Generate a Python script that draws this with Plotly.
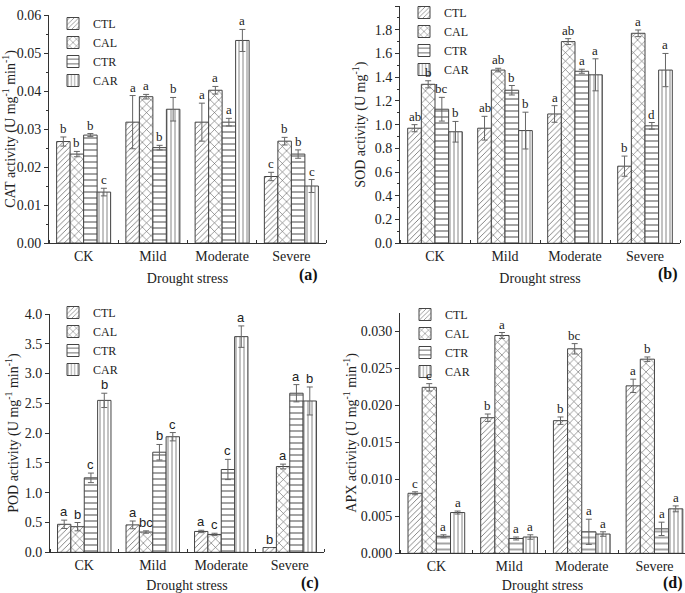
import plotly.graph_objects as go

W, H = 685, 593

categories = ["CK", "Mild", "Moderate", "Severe"]
series = ["CTL", "CAL", "CTR", "CAR"]

# ---- (a) CAT ----
cat_mean = {"CTL": [0.0267, 0.0318, 0.0318, 0.0175],
            "CAL": [0.0234, 0.0385, 0.0402, 0.0268],
            "CTR": [0.0284, 0.0251, 0.0318, 0.0234],
            "CAR": [0.0134, 0.0352, 0.0533, 0.0150]}
cat_err = {"CTL": [0.0012, 0.0070, 0.0050, 0.0011],
           "CAL": [0.0007, 0.0006, 0.0010, 0.0010],
           "CTR": [0.0004, 0.0006, 0.0010, 0.0011],
           "CAR": [0.0010, 0.0031, 0.0029, 0.0017]}
cat_letters = {"CTL": ["b", "a", "a", "c"],
               "CAL": ["b", "a", "a", "b"],
               "CTR": ["b", "b", "a", "b"],
               "CAR": ["c", "b", "a", "c"]}

# ---- (b) SOD ----
sod_mean = {"CTL": [0.97, 0.97, 1.09, 0.65],
            "CAL": [1.34, 1.46, 1.70, 1.77],
            "CTR": [1.13, 1.29, 1.45, 0.99],
            "CAR": [0.94, 0.95, 1.42, 1.46]}
sod_err = {"CTL": [0.03, 0.10, 0.07, 0.085],
           "CAL": [0.03, 0.015, 0.025, 0.028],
           "CTR": [0.10, 0.04, 0.017, 0.028],
           "CAR": [0.087, 0.155, 0.135, 0.14]}
sod_letters = {"CTL": ["ab", "ab", "a", "b"],
               "CAL": ["b", "ab", "ab", "a"],
               "CTR": ["bc", "b", "a", "d"],
               "CAR": ["b", "b", "a", "a"]}

# ---- (c) POD ----
pod_mean = {"CTL": [0.47, 0.46, 0.35, 0.08],
            "CAL": [0.43, 0.34, 0.30, 1.44],
            "CTR": [1.25, 1.68, 1.39, 2.67],
            "CAR": [2.55, 1.94, 3.62, 2.54]}
pod_err = {"CTL": [0.07, 0.065, 0.02, 0.0],
           "CAL": [0.07, 0.02, 0.02, 0.04],
           "CTR": [0.08, 0.13, 0.17, 0.145],
           "CAR": [0.12, 0.07, 0.18, 0.235]}
pod_letters = {"CTL": ["a", "a", "a", "b"],
               "CAL": ["b", "bc", "c", "a"],
               "CTR": ["c", "b", "c", "a"],
               "CAR": ["b", "c", "a", "b"]}

# ---- (d) APX ----
apx_mean = {"CTL": [0.0081, 0.0183, 0.0179, 0.0226],
            "CAL": [0.0224, 0.0294, 0.0276, 0.0262],
            "CTR": [0.0023, 0.0020, 0.0029, 0.0033],
            "CAR": [0.0055, 0.0022, 0.0026, 0.0060]}
apx_err = {"CTL": [0.0002, 0.0005, 0.0005, 0.0009],
           "CAL": [0.0005, 0.0004, 0.0007, 0.0003],
           "CTR": [0.0002, 0.0002, 0.0017, 0.0009],
           "CAR": [0.0002, 0.0003, 0.0003, 0.0004]}
apx_letters = {"CTL": ["c", "b", "b", "a"],
               "CAL": ["c", "a", "bc", "b"],
               "CTR": ["a", "a", "a", "a"],
               "CAR": ["a", "a", "a", "a"]}

SERIF = "Liberation Serif, Times New Roman, serif"
SANS = "Liberation Sans, Arial, sans-serif"
patterns = {"CTL": ("/", 4), "CAL": ("x", 6), "CTR": ("-", 6), "CAR": ("|", 4)}
BARGAP = 0.22
bar_w = (1 - BARGAP) / 4


def px_x(p):
    return p / W


def px_y(p):
    return 1 - p / H


panels = [
    dict(mean=cat_mean, err=cat_err, let=cat_letters, xd=(49, 326), yd=(243, 15),
         yr=[0, 0.06], dt=0.01, fmt=".2f", xr=[-0.5, 3.5],
         yt="CAT activity (U mg<sup>-1</sup> min<sup>-1</sup>)", st=2,
         lab="(a)", lp=(308, 275), lf=SERIF, leg=(53, 9)),
    dict(mean=sod_mean, err=sod_err, let=sod_letters, xd=(400, 680), yd=(243.3, 6),
         yr=[0, 2.0], dt=0.2, fmt=".1f", xr=[-0.5, 3.5],
         yt="SOD activity (U mg<sup>-1</sup>)", st=5,
         lab="(b)", lp=(668, 274), lf=SERIF, leg=(404, -2)),
    dict(mean=pod_mean, err=pod_err, let=pod_letters, xd=(50, 324), yd=(552.3, 314),
         yr=[0, 4.0], dt=0.5, fmt=".1f", xr=[-0.5, 3.5],
         yt="POD activity (U mg<sup>-1</sup> min<sup>-1</sup>)", st=2,
         lab="(c)", lp=(310, 583), lf=SANS, leg=(53, 298)),
    dict(mean=apx_mean, err=apx_err, let=apx_letters, xd=(400, 685), yd=(553.3, 312.5),
         yr=[0, 0.0325], dt=0.005, fmt=".3f", xr=[-0.5, 3.42],
         yt="APX activity (U mg<sup>-1</sup> min<sup>-1</sup>)", st=0,
         lab="(d)", lp=(673, 583), lf=SERIF, leg=(405, 300)),
]

fig = go.Figure()
annotations = []
layout = {}
xpos = list(range(len(categories)))

for i, p in enumerate(panels):
    n = i + 1
    sx = "" if n == 1 else str(n)
    xa, ya = "x" + sx, "y" + sx
    legname = "legend" + sx
    for j, s in enumerate(series):
        shape, size = patterns[s]
        fig.add_trace(go.Bar(
            x=xpos, y=p["mean"][s], name=s, xaxis=xa, yaxis=ya,
            legend=legname, showlegend=True,
            marker=dict(color="white", line=dict(color="#444444", width=1),
                        pattern=dict(shape=shape, size=size, solidity=0.18,
                                     fgcolor="#555555", bgcolor="white",
                                     fillmode="replace")),
            error_y=dict(type="data", array=p["err"][s], visible=True,
                         color="#666666", thickness=1, width=3),
        ))
        off = (j - 1.5) * bar_w
        for k in range(len(categories)):
            annotations.append(dict(
                x=xpos[k] + off, y=p["mean"][s][k] + p["err"][s][k],
                xref=xa, yref=ya, text=p["let"][s][k], showarrow=False,
                yanchor="bottom", yshift=-1,
                font=dict(family=p["lf"], size=13, color="#222222")))
    layout["xaxis" + sx] = dict(
        domain=[px_x(p["xd"][0]), px_x(p["xd"][1])], anchor=ya,
        range=p["xr"], tickvals=xpos, ticktext=categories, ticks="",
        automargin=False,
        showline=True, linecolor="#333333", linewidth=1, showgrid=False,
        zeroline=False,
        minor=dict(tick0=0.5, dtick=1, ticks="inside", ticklen=3,
                   tickcolor="#333333", showgrid=False),
        tickfont=dict(family=SERIF, size=14, color="#222222"),
        title=dict(text="Drought stress", standoff=10,
                   font=dict(family=SERIF, size=14, color="#222222")),
    )
    layout["yaxis" + sx] = dict(
        domain=[px_y(p["yd"][0]), px_y(p["yd"][1])], anchor=xa,
        range=p["yr"], dtick=p["dt"], tick0=0, tickformat=p["fmt"],
        automargin=False,
        ticks="outside", ticklen=4, tickcolor="#333333",
        showline=True, linecolor="#333333", linewidth=1, showgrid=False,
        zeroline=False,
        minor=dict(ticks="outside", ticklen=2, tickcolor="#333333",
                   nticks=2, showgrid=False),
        tickfont=dict(family=SERIF, size=14, color="#222222"),
        title=dict(text=p["yt"], standoff=p["st"],
                   font=dict(family=SERIF, size=14, color="#222222")),
    )
    layout[legname] = dict(
        x=px_x(p["leg"][0]), y=px_y(p["leg"][1]), xanchor="left", yanchor="top",
        bgcolor="rgba(0,0,0,0)", borderwidth=0,
        font=dict(family=SERIF, size=12, color="#222222"),
        itemwidth=30, tracegroupgap=0,
    )
    annotations.append(dict(
        x=px_x(p["lp"][0]), y=px_y(p["lp"][1]), xref="paper", yref="paper",
        text="<b>%s</b>" % p["lab"], showarrow=False, xanchor="center",
        yanchor="middle", font=dict(family=SERIF, size=16, color="#111111")))

fig.update_layout(
    width=W, height=H, margin=dict(l=0, r=0, t=0, b=0, autoexpand=False),
    paper_bgcolor="white", plot_bgcolor="white",
    barmode="group", bargap=BARGAP, bargroupgap=0,
    annotations=annotations,
    **layout,
)

fig.write_html("out.html", config={"displayModeBar": False},
               post_script="document.body.style.margin='0';")
